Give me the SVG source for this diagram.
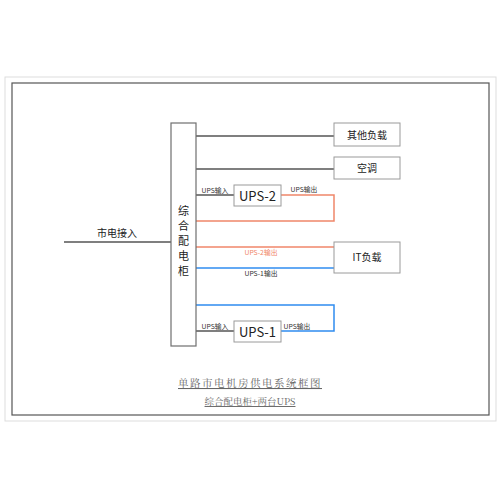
<svg xmlns="http://www.w3.org/2000/svg" width="500" height="500" viewBox="0 0 500 500">
<style>
.box{fill:#fff;stroke:#9a9a9a;stroke-width:1}
.cab{fill:#fff;stroke:#6f6f6f;stroke-width:1.2}
.lbl{font-family:"Noto Sans CJK SC","Noto Sans",sans-serif;fill:#222;text-anchor:middle}
.sm{font-family:"Noto Sans CJK SC","Noto Sans",sans-serif;font-size:6.8px;fill:#333;text-anchor:middle}
.g{fill:none;stroke:#555;stroke-width:1.5}
.o{fill:none;stroke:#f0866a;stroke-width:1.5}
.b{fill:none;stroke:#2f8cf0;stroke-width:1.5}
.ttl{font-family:"Noto Serif CJK SC","Noto Sans CJK SC",serif;fill:#666;text-anchor:middle;text-decoration:underline}
</style>
<rect x="0" y="0" width="500" height="500" fill="#fff"/>
<rect x="5" y="77" width="491" height="344" fill="none" stroke="#ddd" stroke-width="1"/>
<rect x="12" y="83" width="477" height="332" fill="none" stroke="#555" stroke-width="1.2"/>
<g id="connectors">
<line class="g" x1="64" y1="242" x2="171" y2="242"/>
<line class="g" x1="196" y1="136" x2="334" y2="136"/>
<line class="g" x1="196" y1="169" x2="334" y2="169"/>
<line class="g" x1="196" y1="195" x2="234" y2="195"/>
<polyline class="o" points="281,195 334,195 334,221 196,221"/>
<line class="o" x1="196" y1="247" x2="334" y2="247"/>
<line class="b" x1="196" y1="268" x2="334" y2="268"/>
<polyline class="b" points="196,305 334,305 334,331 281,331"/>
<line class="g" x1="196" y1="331" x2="234" y2="331"/>
<text class="lbl" x="117" y="237" font-size="10">市电接入</text>
<text class="sm" x="215" y="193">UPS输入</text>
<text class="sm" x="304" y="192">UPS输出</text>
<text class="sm" x="261" y="255" style="fill:#f0866a">UPS-2输出</text>
<text class="sm" x="261" y="276">UPS-1输出</text>
<text class="sm" x="215" y="329">UPS输入</text>
<text class="sm" x="297" y="329">UPS输出</text>
</g>
<g id="cabinet">
<rect class="cab" x="171" y="123" width="25" height="223"/>
<text class="lbl" font-size="11"><tspan x="183.5" y="215">综</tspan><tspan x="183.5" y="230">合</tspan><tspan x="183.5" y="245">配</tspan><tspan x="183.5" y="260">电</tspan><tspan x="183.5" y="275">柜</tspan></text>
</g>
<g id="other-load">
<rect class="box" x="334" y="123" width="66" height="23"/>
<text class="lbl" x="367" y="138.5" font-size="10">其他负载</text>
</g>
<g id="ac">
<rect class="box" x="334" y="157" width="66" height="22"/>
<text class="lbl" x="367" y="172" font-size="10">空调</text>
</g>
<g id="ups2">
<rect class="box" x="234" y="185" width="47" height="21"/>
<text class="lbl" x="257.5" y="200.5" font-size="13">UPS-2</text>
</g>
<g id="it-load">
<rect class="box" x="334" y="242" width="66" height="31"/>
<text class="lbl" x="367" y="261" font-size="10">IT负载</text>
</g>
<g id="ups1">
<rect class="box" x="234" y="321" width="47" height="21"/>
<text class="lbl" x="257.5" y="336.5" font-size="13">UPS-1</text>
</g>
<g id="title">
<text class="ttl" x="250" y="387" font-size="10.5" letter-spacing="1.5">单路市电机房供电系统框图</text>
<text class="ttl" x="250" y="405" font-size="9.5">综合配电柜+两台UPS</text>
</g>
</svg>
